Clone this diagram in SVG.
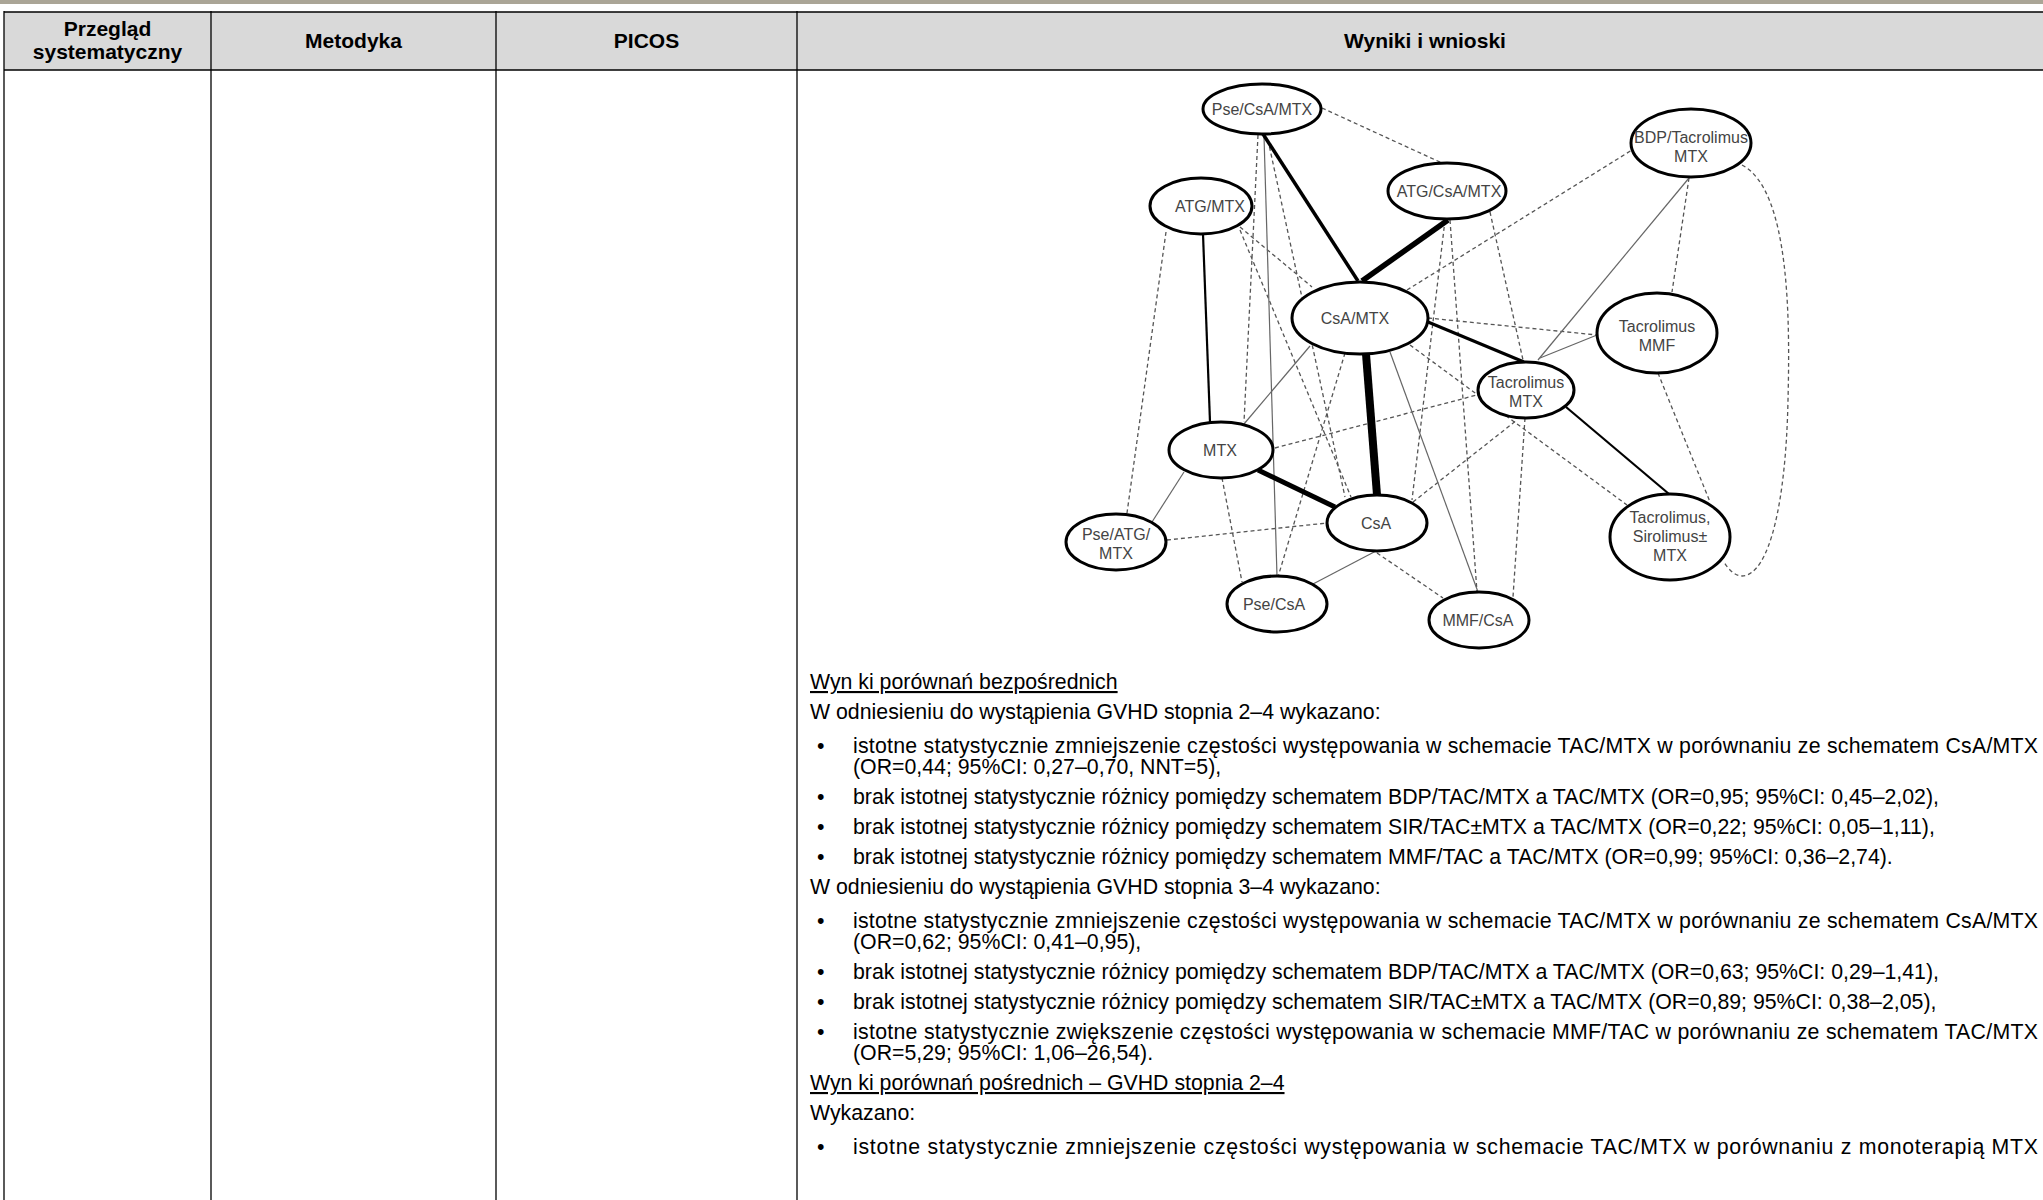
<svg xmlns="http://www.w3.org/2000/svg" width="2043" height="1200" viewBox="0 0 2043 1200">
<style>
.hdr{font-family:"Liberation Sans",Arial,sans-serif;font-weight:bold;font-size:21px;fill:#000;text-anchor:middle}
.b{font-family:"Liberation Sans",Arial,sans-serif;font-size:21.3px;fill:#000}
.u{text-decoration:underline}
.nl{font-family:"Liberation Sans",Arial,sans-serif;font-size:16px;fill:#444;text-anchor:middle}
.node ellipse{fill:#fff;stroke:#000;stroke-width:3}
.d{stroke:#555;stroke-width:1.3;stroke-dasharray:4 3;fill:none}
.t{stroke:#666;stroke-width:1.2;fill:none}
.s{stroke:#000;fill:none}
.grid{stroke:#000;stroke-width:1.3}
</style>
<rect x="0" y="0" width="2043" height="4" fill="#aaa596"/>
<g id="table">
<rect x="4" y="12" width="2060" height="58" fill="#d9d9d9"/>
<line class="grid" x1="4" y1="12" x2="2043" y2="12" stroke-width="3"/>
<line class="grid" x1="4" y1="70" x2="2043" y2="70" stroke-width="3"/>
<line class="grid" x1="4" y1="11" x2="4" y2="1200"/>
<line class="grid" x1="211" y1="11" x2="211" y2="1200"/>
<line class="grid" x1="496" y1="11" x2="496" y2="1200"/>
<line class="grid" x1="797" y1="11" x2="797" y2="1200"/>
<text class="hdr" x="107.5" y="36">Przegląd</text>
<text class="hdr" x="107.5" y="59">systematyczny</text>
<text class="hdr" x="353.5" y="47.5">Metodyka</text>
<text class="hdr" x="646.5" y="47.5">PICOS</text>
<text class="hdr" x="1425" y="47.5">Wyniki i wnioski</text>
</g>
<g id="connectors">
<path class="d" d="M1322,108 L1442,163"/>
<path class="d" d="M1258,135 L1244,422"/>
<path class="d" d="M1268,140 L1345,497"/>
<path class="d" d="M1166,232 L1127,513"/>
<path class="d" d="M1240,227 L1312,287"/>
<path class="d" d="M1240,230 L1351,497"/>
<path class="d" d="M1345,353 L1278,577"/>
<path class="d" d="M1407,290 L1632,150"/>
<path class="d" d="M1428,318 L1597,335"/>
<path class="d" d="M1410,345 L1627,505"/>
<path class="d" d="M1445,220 L1412,500"/>
<path class="d" d="M1450,220 L1477,592"/>
<path class="d" d="M1490,212 L1523,360"/>
<path class="d" d="M1689,178 L1672,292"/>
<path class="d" d="M1742,165 C1790,190 1790,320 1788,400 C1786,500 1770,575 1742,576 C1735,576 1728,569 1724,562"/>
<path class="d" d="M1658,373 L1710,502"/>
<path class="d" d="M1525,418 L1513,597"/>
<path class="d" d="M1275,448 L1477,395"/>
<path class="d" d="M1222,478 L1242,582"/>
<path class="d" d="M1413,502 L1517,420"/>
<path class="d" d="M1167,540 L1327,523"/>
<path class="d" d="M1377,553 L1443,598"/>
<path class="t" d="M1264,136 L1277,576"/>
<path class="t" d="M1310,346 L1244,424"/>
<path class="t" d="M1390,352 L1478,592"/>
<path class="t" d="M1184,472 L1152,522"/>
<path class="t" d="M1376,551 L1313,584"/>
<path class="t" d="M1689,178 L1538,360"/>
<path class="t" d="M1597,335 L1540,358"/>
<path class="s" stroke-width="3.5" d="M1263,134 L1358,281"/>
<path class="s" stroke-width="5.5" d="M1448,220 L1362,281"/>
<path class="s" stroke-width="8" d="M1366,354 L1377,495"/>
<path class="s" stroke-width="5" d="M1258,470 L1335,507"/>
<path class="s" stroke-width="3" d="M1428,322 L1524,362"/>
<path class="s" stroke-width="2.2" d="M1203,234 L1210,422"/>
<path class="s" stroke-width="2.2" d="M1566,407 L1669,494"/>
</g>
<g id="n-psecsamtx" class="node"><ellipse cx="1262" cy="109" rx="59" ry="25"/><text class="nl" x="1262" y="114.5">Pse/CsA/MTX</text></g>
<g id="n-atgmtx" class="node"><ellipse cx="1201" cy="206" rx="51" ry="28"/><text class="nl" x="1210" y="211.5">ATG/MTX</text></g>
<g id="n-atgcsamtx" class="node"><ellipse cx="1447" cy="191" rx="59" ry="28"/><text class="nl" x="1449" y="196.5">ATG/CsA/MTX</text></g>
<g id="n-csamtx" class="node"><ellipse cx="1360" cy="318" rx="68" ry="36"/><text class="nl" x="1355" y="323.5">CsA/MTX</text></g>
<g id="n-bdp" class="node"><ellipse cx="1691" cy="143" rx="60" ry="34"/><text class="nl" x="1691" y="143">BDP/Tacrolimus</text><text class="nl" x="1691" y="162">MTX</text></g>
<g id="n-tacmmf" class="node"><ellipse cx="1657" cy="333" rx="60" ry="40"/><text class="nl" x="1657" y="332">Tacrolimus</text><text class="nl" x="1657" y="351">MMF</text></g>
<g id="n-tacmtx" class="node"><ellipse cx="1526" cy="390" rx="48" ry="28"/><text class="nl" x="1526" y="388">Tacrolimus</text><text class="nl" x="1526" y="407">MTX</text></g>
<g id="n-mtx" class="node"><ellipse cx="1221" cy="450" rx="52" ry="28"/><text class="nl" x="1220" y="455.5">MTX</text></g>
<g id="n-csa" class="node"><ellipse cx="1377" cy="523" rx="50" ry="28"/><text class="nl" x="1376" y="528.5">CsA</text></g>
<g id="n-pseatgmtx" class="node"><ellipse cx="1116" cy="542" rx="50" ry="28"/><text class="nl" x="1116" y="540">Pse/ATG/</text><text class="nl" x="1116" y="559">MTX</text></g>
<g id="n-psecsa" class="node"><ellipse cx="1277" cy="604" rx="50" ry="28"/><text class="nl" x="1274" y="609.5">Pse/CsA</text></g>
<g id="n-mmfcsa" class="node"><ellipse cx="1479" cy="620" rx="50" ry="28"/><text class="nl" x="1478" y="625.5">MMF/CsA</text></g>
<g id="n-tacsir" class="node"><ellipse cx="1670" cy="537" rx="60" ry="43"/><text class="nl" x="1670" y="523">Tacrolimus,</text><text class="nl" x="1670" y="542">Sirolimus±</text><text class="nl" x="1670" y="561">MTX</text></g>
<g id="body-text">
<text class="b u" x="810" y="689">Wyn ki porównań bezpośrednich</text>
<text class="b" x="810" y="719">W odniesieniu do wystąpienia GVHD stopnia 2–4 wykazano:</text>
<text class="b" x="817" y="753">•</text>
<text class="b" x="853" y="753" textLength="1185" lengthAdjust="spacing">istotne statystycznie zmniejszenie częstości występowania w schemacie TAC/MTX w porównaniu ze schematem CsA/MTX</text>
<text class="b" x="853" y="774">(OR=0,44; 95%CI: 0,27–0,70, NNT=5),</text>
<text class="b" x="817" y="804">•</text>
<text class="b" x="853" y="804">brak istotnej statystycznie różnicy pomiędzy schematem BDP/TAC/MTX a TAC/MTX (OR=0,95; 95%CI: 0,45–2,02),</text>
<text class="b" x="817" y="834">•</text>
<text class="b" x="853" y="834">brak istotnej statystycznie różnicy pomiędzy schematem SIR/TAC±MTX a TAC/MTX (OR=0,22; 95%CI: 0,05–1,11),</text>
<text class="b" x="817" y="864">•</text>
<text class="b" x="853" y="864">brak istotnej statystycznie różnicy pomiędzy schematem MMF/TAC a TAC/MTX (OR=0,99; 95%CI: 0,36–2,74).</text>
<text class="b" x="810" y="894">W odniesieniu do wystąpienia GVHD stopnia 3–4 wykazano:</text>
<text class="b" x="817" y="928">•</text>
<text class="b" x="853" y="928" textLength="1185" lengthAdjust="spacing">istotne statystycznie zmniejszenie częstości występowania w schemacie TAC/MTX w porównaniu ze schematem CsA/MTX</text>
<text class="b" x="853" y="949">(OR=0,62; 95%CI: 0,41–0,95),</text>
<text class="b" x="817" y="979">•</text>
<text class="b" x="853" y="979">brak istotnej statystycznie różnicy pomiędzy schematem BDP/TAC/MTX a TAC/MTX (OR=0,63; 95%CI: 0,29–1,41),</text>
<text class="b" x="817" y="1009">•</text>
<text class="b" x="853" y="1009">brak istotnej statystycznie różnicy pomiędzy schematem SIR/TAC±MTX a TAC/MTX (OR=0,89; 95%CI: 0,38–2,05),</text>
<text class="b" x="817" y="1039">•</text>
<text class="b" x="853" y="1039" textLength="1185" lengthAdjust="spacing">istotne statystycznie zwiększenie częstości występowania w schemacie MMF/TAC w porównaniu ze schematem TAC/MTX</text>
<text class="b" x="853" y="1060">(OR=5,29; 95%CI: 1,06–26,54).</text>
<text class="b u" x="810" y="1090">Wyn ki porównań pośrednich – GVHD stopnia 2–4</text>
<text class="b" x="810" y="1120">Wykazano:</text>
<text class="b" x="817" y="1154">•</text>
<text class="b" x="853" y="1154" textLength="1185" lengthAdjust="spacing">istotne statystycznie zmniejszenie częstości występowania w schemacie TAC/MTX w porównaniu z monoterapią MTX</text>
</g>
</svg>
